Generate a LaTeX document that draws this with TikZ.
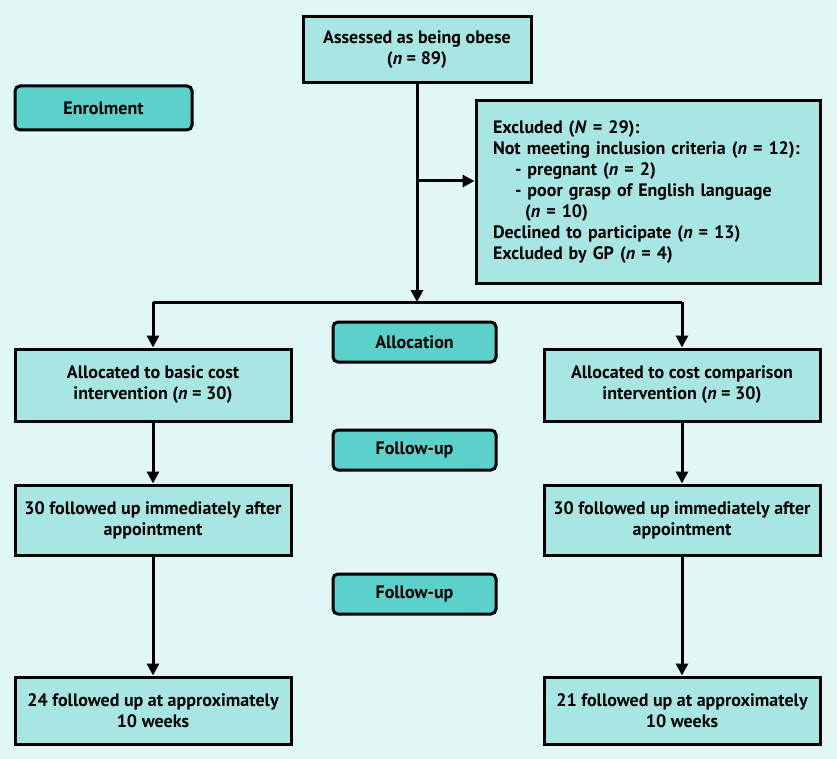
\documentclass[tikz,border=0pt]{standalone}
\usepackage{fontspec}
\setmainfont{PT Sans}
\usetikzlibrary{arrows.meta}
\definecolor{bg}{HTML}{E0F7F5}
\definecolor{boxfill}{HTML}{A8E6E3}
\definecolor{stagefill}{HTML}{5BD1CB}
\tikzset{
  x=1pt,y=-1pt,
  every node/.style={font=\bfseries\fontsize{18}{21}\selectfont},
  mainbox/.style={draw=black,line width=3pt,fill=boxfill,inner sep=0pt,align=center},
  stagebox/.style={draw=black,line width=3pt,fill=stagefill,rounded corners=5pt,inner sep=0pt,align=center},
  conn/.style={line width=3pt,-{Triangle[length=12pt,width=12pt]}},
  plain/.style={line width=3pt}
}
\newcommand{\nn}{\textit{n}}
\begin{document}
\begin{tikzpicture}
\fill[bg] (0,0) rectangle (837,759);
\useasboundingbox (0,0) rectangle (837,759);
% main boxes
\node[mainbox,minimum width=228pt,minimum height=66pt] (top) at (417,50) {Assessed as being obese\\(\nn\ = 89)};
\node[stagebox,minimum width=177pt,minimum height=44pt] (enrol) at (103.5,108) {Enrolment};
\node[mainbox,minimum width=344pt,minimum height=182pt,align=left,text width=310pt,inner xsep=17pt] (excl) at (648,192) {Excluded (\textit{N} = 29):\\
Not meeting inclusion criteria (\nn\ = 12):\\
\hspace*{22pt}- pregnant (\nn\ = 2)\\
\hspace*{22pt}- poor grasp of English language\\
\hspace*{32pt}(\nn\ = 10)\\
Declined to participate (\nn\ = 13)\\
Excluded by GP (\nn\ = 4)};
\node[stagebox,minimum width=163pt,minimum height=40pt] (alloc) at (414.5,342) {Allocation};
\node[mainbox,minimum width=276pt,minimum height=72pt] (l1) at (153,385) {Allocated to basic cost\\intervention (\nn\ = 30)};
\node[mainbox,minimum width=276pt,minimum height=72pt] (r1) at (682,385) {Allocated to cost comparison\\intervention (\nn\ = 30)};
\node[stagebox,minimum width=163pt,minimum height=40pt] (fu1) at (414.5,450) {Follow-up};
\node[mainbox,minimum width=276pt,minimum height=70pt] (l2) at (153,520) {30 followed up immediately after\\appointment};
\node[mainbox,minimum width=276pt,minimum height=70pt] (r2) at (682,520) {30 followed up immediately after\\appointment};
\node[stagebox,minimum width=163pt,minimum height=40pt] (fu2) at (414.5,594) {Follow-up};
\node[mainbox,minimum width=276pt,minimum height=67pt] (l3) at (153,710.5) {24 followed up at approximately\\10 weeks};
\node[mainbox,minimum width=276pt,minimum height=67pt] (r3) at (682,710.5) {21 followed up at approximately\\10 weeks};
% connectors
\coordinate (split) at (417,302);
\coordinate (lcorner) at (153,302);
\coordinate (rcorner) at (682,302);
\coordinate (branch) at (417,181);
\draw[conn] (top.south) -- (split);
\draw[conn] (branch) -- (excl.west |- branch);
\draw[plain] (lcorner) -- (rcorner);
\draw[conn] (lcorner) -- (l1.north);
\draw[conn] (rcorner) -- (r1.north);
\draw[conn] (l1.south) -- (l2.north);
\draw[conn] (r1.south) -- (r2.north);
\draw[conn] (l2.south) -- (l3.north);
\draw[conn] (r2.south) -- (r3.north);
\end{tikzpicture}
\end{document}
